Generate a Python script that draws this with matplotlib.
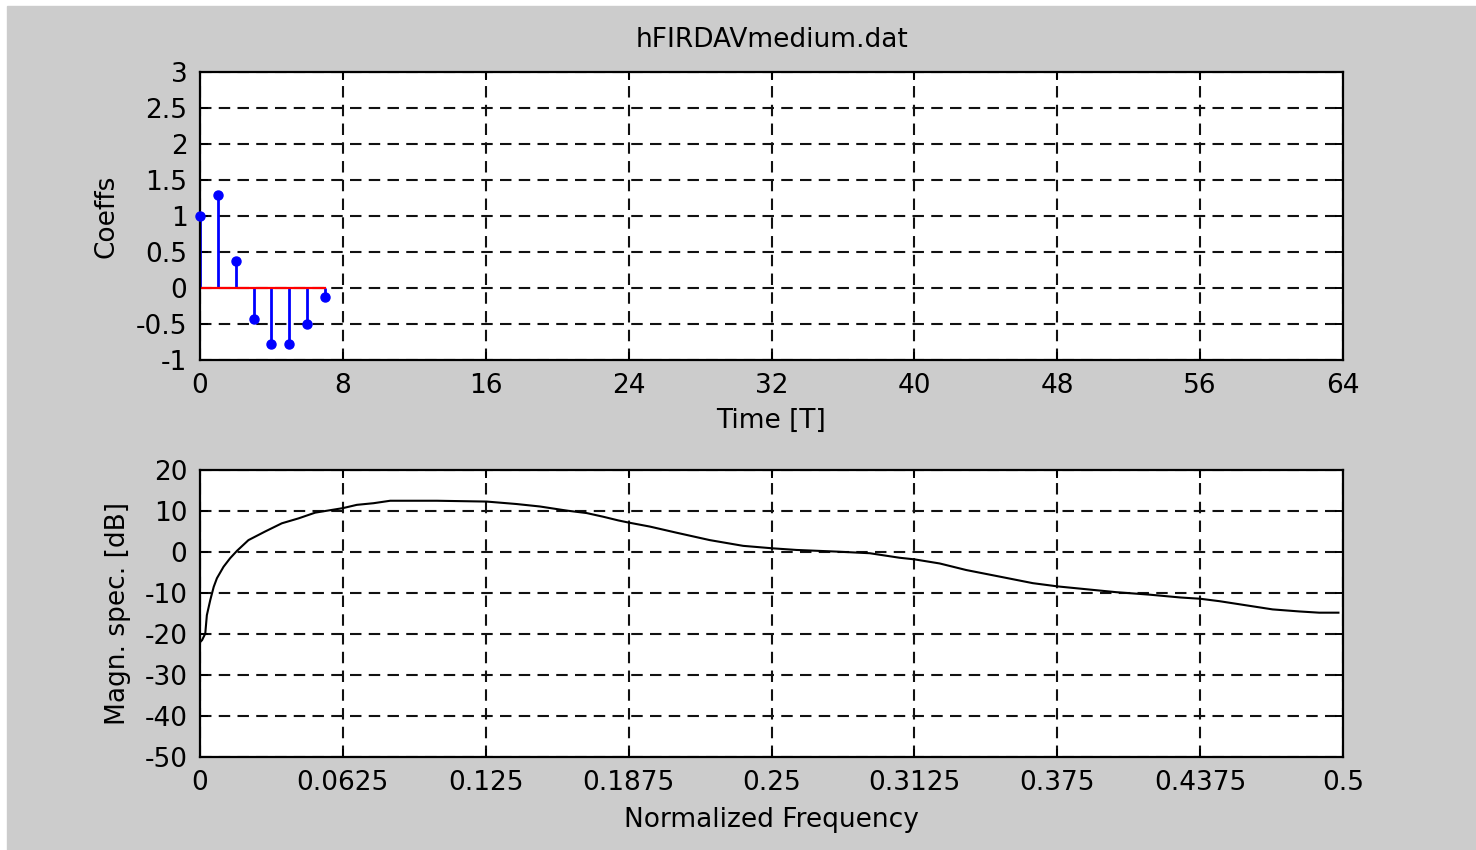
import matplotlib
matplotlib.use("Agg")
import matplotlib.pyplot as plt
from matplotlib.patches import Rectangle

# filter coefficients h[n]
taps = [0, 1, 2, 3, 4, 5, 6, 7]
coeffs = [1.0, 1.29, 0.38, -0.43, -0.78, -0.78, -0.50, -0.13]

# magnitude spectrum, normalized frequency vs dB
freq = [0.0, 0.0009, 0.0023, 0.003, 0.0045, 0.006, 0.0074, 0.0103, 0.0132,
        0.0162, 0.0212, 0.0285, 0.0358, 0.0431, 0.0504, 0.0625, 0.0686,
        0.0759, 0.0832, 0.1036, 0.1254, 0.1385, 0.1487, 0.1604, 0.1691,
        0.1764, 0.1830, 0.1873, 0.1968, 0.2085, 0.2230, 0.2376, 0.2504,
        0.2609, 0.2784, 0.2930, 0.3060, 0.3126, 0.3236, 0.3352, 0.3498,
        0.3643, 0.3753, 0.3862, 0.4008, 0.4153, 0.4290, 0.4375, 0.4460,
        0.4576, 0.4692, 0.4809, 0.4896, 0.4980]
magn_db = [-22.0, -21.5, -19.9, -15.4, -11.7, -8.5, -6.4, -3.6, -1.5,
           0.3, 2.9, 5.0, 7.0, 8.2, 9.6, 10.7, 11.5,
           11.9, 12.5, 12.5, 12.3, 11.7, 11.1, 10.1, 9.5,
           8.6, 7.7, 7.2, 6.2, 4.7, 2.9, 1.5, 0.9,
           0.5, 0.1, -0.3, -1.4, -1.8, -2.8, -4.4, -6.0,
           -7.6, -8.4, -9.0, -9.8, -10.4, -11.1, -11.4, -12.0,
           -13.0, -14.0, -14.5, -14.8, -14.8]

time_ticks = [0, 8, 16, 24, 32, 40, 48, 56, 64]
coef_ticks = [-1, -0.5, 0, 0.5, 1, 1.5, 2, 2.5, 3]
coef_labels = ['-1', '-0.5', '0', '0.5', '1', '1.5', '2', '2.5', '3']
freq_ticks = [0, 0.0625, 0.125, 0.1875, 0.25, 0.3125, 0.375, 0.4375, 0.5]
freq_labels = ['0', '0.0625', '0.125', '0.1875', '0.25', '0.3125', '0.375',
               '0.4375', '0.5']
db_ticks = [-50, -40, -30, -20, -10, 0, 10, 20]
db_labels = ['-50', '-40', '-30', '-20', '-10', '0', '10', '20']

FS = 19
plt.rcParams['font.family'] = ['DejaVu Sans']
plt.rcParams['font.size'] = FS

W, H = 1476, 850
fig = plt.figure(figsize=(W / 100, H / 100), dpi=100, facecolor='white')
fig.patches.append(Rectangle((7 / W, 0), 1 - 7 / W, 1 - 6 / H,
                             transform=fig.transFigure, color='#cccccc',
                             zorder=-10))


def style(ax):
    ax.set_facecolor('white')
    for s in ax.spines.values():
        s.set_linewidth(1.6)
        s.set_color('black')
    ax.grid(True, color='#111111', linestyle=(0, (5.5, 3.5)), linewidth=1.5)
    ax.tick_params(direction='in', length=6, width=1.4, pad=9,
                   top=True, right=True, labelsize=FS)


ax1 = fig.add_axes([200 / W, 1 - 360 / H, 1143 / W, 288 / H])
style(ax1)
ml, sl, bl = ax1.stem(taps, coeffs, linefmt='b-', markerfmt='bo',
                      basefmt='r-')
plt.setp(sl, linewidth=2)
plt.setp(ml, markersize=6.5, clip_on=False, zorder=5)
plt.setp(bl, linewidth=1.6)
ax1.set_xlim(0, 64)
ax1.set_ylim(-1, 3)
ax1.set_xticks(time_ticks)
ax1.set_yticks(coef_ticks)
ax1.set_yticklabels(coef_labels)
ax1.set_xlabel('Time [T]', labelpad=7)
ax1.set_ylabel('Coeffs', labelpad=12)
ax1.set_title('hFIRDAVmedium.dat', pad=18, fontsize=FS)

ax2 = fig.add_axes([200 / W, 1 - 757 / H, 1143 / W, 287 / H])
style(ax2)
ax2.plot(freq, magn_db, color='black', linewidth=1.5)
ax2.set_xlim(0, 0.5)
ax2.set_ylim(-50, 20)
ax2.set_xticks(freq_ticks)
ax2.set_xticklabels(freq_labels)
ax2.set_yticks(db_ticks)
ax2.set_yticklabels(db_labels)
ax2.set_xlabel('Normalized Frequency', labelpad=8)
ax2.set_ylabel('Magn. spec. [dB]', labelpad=10)

fig.savefig('out.png', dpi=100, facecolor=fig.get_facecolor())
